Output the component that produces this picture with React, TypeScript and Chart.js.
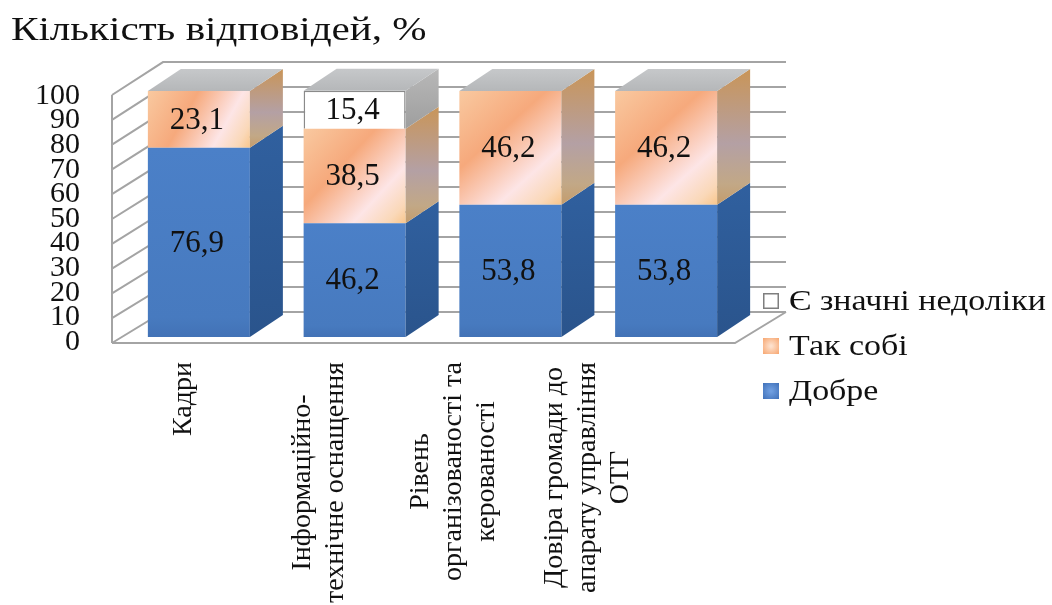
import React, { useEffect, useRef } from "react";
import { Chart, registerables } from "chart.js";

Chart.register(...registerables);

// ---- data ----
const categories: string[][] = [
  ["Кадри"],
  ["Інформаційно-", "технічне оснащення"],
  ["Рівень", "організованості та", "керованості"],
  ["Довіра громади до", "апарату управління", "ОТГ"],
];
const goodValues = [76.9, 46.2, 53.8, 53.8];
const mediocreValues = [23.1, 38.5, 46.2, 46.2];
const poorValues = [0, 15.4, 0, 0];
const seriesNames = ["Добре", "Так собі", "Є значні недоліки"];
const titleText = "Кількість відповідей, %";
const yMin = 0;
const yMax = 100;
const yStep = 10;

// ---- look ----
const FONT = "'Liberation Serif', 'Times New Roman', serif";
const BAR_PCT = 0.655;
const DEPTH = { dx: 33, dy: -22 }; // bar depth in the oblique projection
const FRONT = { dx: -9, dy: 6, ky: 1.008 }; // floor / side wall front plane
const BACK = { dx: 42, dy: -25, ky: 1.016 }; // back wall plane
const GRID = "#a4a4a4";
const LEGEND = { x: 763, y0: 301, step: 45, box: 16 };

const fmt = (v: number) => v.toFixed(1).replace(".", ",");

function segment(chart: any, ds: number, i: number) {
  let base = 0;
  for (let d = 0; d < ds; d++) base += chart.data.datasets[d].data[i];
  return [base, base + chart.data.datasets[ds].data[i]];
}

function barBox(chart: any, ds: number, i: number) {
  const xs = chart.scales.x;
  const ys = chart.scales.y;
  const a = chart.chartArea;
  const w = ((a.right - a.left) / categories.length) * BAR_PCT;
  const xc = xs.getPixelForValue(i);
  const [lo, hi] = segment(chart, ds, i);
  return { x1: xc - w / 2, x2: xc + w / 2, top: ys.getPixelForValue(hi), bottom: ys.getPixelForValue(lo) };
}

function orangeFront(ctx: CanvasRenderingContext2D, b: any) {
  const g = ctx.createLinearGradient(b.x1, b.top, b.x2, b.bottom);
  g.addColorStop(0, "#f9c9a0");
  g.addColorStop(0.38, "#f6a97c");
  g.addColorStop(0.72, "#fde5e6");
  g.addColorStop(0.9, "#fad8b8");
  g.addColorStop(1, "#f8c68c");
  return g;
}
function blueFront(ctx: CanvasRenderingContext2D, b: any) {
  const g = ctx.createLinearGradient(0, b.top, 0, b.bottom);
  g.addColorStop(0, "#4b80c8");
  g.addColorStop(0.9, "#477abf");
  g.addColorStop(1, "#4272b6");
  return g;
}

const frontFill = (ds: number) => (c: any) => {
  const chart = c.chart;
  if (!chart.chartArea || c.type !== "data") return ["#4a7cc3", "#f7ad7e", "#ffffff"][ds];
  if (ds === 2) return "#ffffff";
  const b = barBox(chart, ds, c.dataIndex);
  return ds === 0 ? blueFront(chart.ctx, b) : orangeFront(chart.ctx, b);
};

function sideFill(ctx: CanvasRenderingContext2D, ds: number, x: number, top: number, bottom: number) {
  const g = ctx.createLinearGradient(x, top + DEPTH.dy, x, bottom);
  if (ds === 0) {
    g.addColorStop(0, "#30609f");
    g.addColorStop(1, "#2a548c");
  } else if (ds === 1) {
    g.addColorStop(0, "#c99558");
    g.addColorStop(0.55, "#b4a0a4");
    g.addColorStop(0.85, "#c2a886");
    g.addColorStop(1, "#c49c6c");
  } else {
    g.addColorStop(0, "#b8b8b8");
    g.addColorStop(1, "#9e9e9e");
  }
  return g;
}

// text drawn slightly widened horizontally
function wideText(ctx: CanvasRenderingContext2D, text: string, x: number, y: number, sx: number) {
  ctx.save();
  ctx.translate(x, y);
  ctx.scale(sx, 1);
  ctx.fillText(text, 0, 0);
  ctx.restore();
}

const scene3d = {
  id: "scene3d",
  beforeDatasetsDraw(chart: any) {
    const { ctx, chartArea: a, scales } = chart;
    const ys = scales.y;
    const yAt = (v: number, p: any) => a.bottom + p.dy - (a.bottom - ys.getPixelForValue(v)) * p.ky;
    const fl = a.left + FRONT.dx;
    const fr = a.right + FRONT.dx;
    const bl = a.left + BACK.dx;
    const br = a.right + BACK.dx;
    ctx.save();
    ctx.strokeStyle = GRID;
    ctx.lineWidth = 2;
    ctx.beginPath();
    for (const t of ys.ticks) {
      ctx.moveTo(fl, yAt(t.value, FRONT));
      ctx.lineTo(bl, yAt(t.value, BACK));
      ctx.lineTo(br, yAt(t.value, BACK));
    }
    ctx.moveTo(fl, yAt(yMin, FRONT));
    ctx.lineTo(fl, yAt(yMax, FRONT));
    ctx.moveTo(fl, yAt(yMin, FRONT));
    ctx.lineTo(fr, yAt(yMin, FRONT));
    ctx.lineTo(br, yAt(yMin, BACK));
    ctx.stroke();
    ctx.restore();
  },
  afterDatasetsDraw(chart: any) {
    const { ctx } = chart;
    const n = categories.length;
    const nds = chart.data.datasets.length;
    ctx.save();
    // side faces
    for (let ds = 0; ds < nds; ds++) {
      for (let i = 0; i < n; i++) {
        const v = chart.data.datasets[ds].data[i];
        if (!v) continue;
        const b = barBox(chart, ds, i);
        ctx.beginPath();
        ctx.moveTo(b.x2, b.bottom);
        ctx.lineTo(b.x2, b.top);
        ctx.lineTo(b.x2 + DEPTH.dx, b.top + DEPTH.dy);
        ctx.lineTo(b.x2 + DEPTH.dx, b.bottom + DEPTH.dy);
        ctx.closePath();
        ctx.fillStyle = sideFill(ctx, ds, b.x2, b.top, b.bottom);
        ctx.fill();
      }
    }
    // top faces
    for (let i = 0; i < n; i++) {
      const b = barBox(chart, nds - 1, i);
      const g = ctx.createLinearGradient(0, b.top + DEPTH.dy, 0, b.top);
      g.addColorStop(0, "#c6c8ca");
      g.addColorStop(1, "#b5b7b9");
      ctx.beginPath();
      ctx.moveTo(b.x1, b.top);
      ctx.lineTo(b.x2, b.top);
      ctx.lineTo(b.x2 + DEPTH.dx, b.top + DEPTH.dy);
      ctx.lineTo(b.x1 + DEPTH.dx, b.top + DEPTH.dy);
      ctx.closePath();
      ctx.fillStyle = g;
      ctx.fill();
    }
    // value labels
    ctx.fillStyle = "#111111";
    ctx.font = `31px ${FONT}`;
    ctx.textAlign = "center";
    ctx.textBaseline = "middle";
    for (let ds = 0; ds < nds; ds++) {
      for (let i = 0; i < n; i++) {
        const v = chart.data.datasets[ds].data[i];
        if (!v) continue;
        const b = barBox(chart, ds, i);
        ctx.fillText(fmt(v), (b.x1 + b.x2) / 2 - 2, (b.top + b.bottom) / 2 + 1);
      }
    }
    ctx.restore();
  },
  afterDraw(chart: any) {
    const { ctx, chartArea: a } = chart;
    const lx = chart.scales.lx;
    ctx.save();
    // title
    ctx.fillStyle = "#111111";
    ctx.font = `33px ${FONT}`;
    ctx.textAlign = "left";
    ctx.textBaseline = "alphabetic";
    wideText(ctx, titleText, 11, 40, 1.245);

    // category labels, rotated, lines centred
    ctx.font = `28px ${FONT}`;
    ctx.textAlign = "center";
    ctx.textBaseline = "middle";
    const lh = 33;
    categories.forEach((lines, i) => {
      const maxW = Math.max(...lines.map((l) => ctx.measureText(l).width));
      const xc = lx.getPixelForValue(i);
      const yc = a.bottom + 25 + maxW / 2;
      ctx.save();
      ctx.translate(xc, yc);
      ctx.rotate(-Math.PI / 2);
      lines.forEach((l, j) => ctx.fillText(l, 0, (j - (lines.length - 1) / 2) * lh));
      ctx.restore();
    });

    // legend (top to bottom: last series first)
    ctx.textAlign = "left";
    const order = [2, 1, 0];
    order.forEach((ds, k) => {
      const cy = LEGEND.y0 + k * LEGEND.step;
      const bx = LEGEND.x;
      const by = cy - LEGEND.box / 2;
      const s = LEGEND.box;
      if (ds === 2) {
        ctx.fillStyle = "#ffffff";
        ctx.fillRect(bx, by, s, s);
        ctx.strokeStyle = "#7f7f7f";
        ctx.lineWidth = 1.5;
        ctx.strokeRect(bx + 0.75, by + 0.75, s - 1.5, s - 1.5);
      } else {
        const g = ctx.createRadialGradient(bx + s / 2, by + s / 2, 1, bx + s / 2, by + s / 2, s / 1.4);
        if (ds === 1) {
          g.addColorStop(0, "#fde0cc");
          g.addColorStop(1, "#f7a56e");
        } else {
          g.addColorStop(0, "#6f9ee0");
          g.addColorStop(1, "#3f70b8");
        }
        ctx.fillStyle = g;
        ctx.fillRect(bx, by, s, s);
      }
      ctx.fillStyle = "#111111";
      ctx.font = `29px ${FONT}`;
      wideText(ctx, seriesNames[ds], bx + s + 10, cy + 1, 1.17);
    });
    ctx.restore();
  },
};

export default function App() {
  const ref = useRef<HTMLCanvasElement | null>(null);
  useEffect(() => {
    document.body.style.margin = "0";
    const canvas = ref.current;
    if (!canvas) return;
    const chart = new Chart(canvas, {
      type: "bar",
      data: {
        labels: categories.map((c) => c.join(" ")),
        datasets: [
          { label: seriesNames[0], data: goodValues, backgroundColor: frontFill(0), borderWidth: 0 },
          { label: seriesNames[1], data: mediocreValues, backgroundColor: frontFill(1), borderWidth: 0 },
          {
            label: seriesNames[2],
            data: poorValues,
            backgroundColor: frontFill(2),
            borderColor: "#8a8a8a",
            borderWidth: 1.5,
          },
        ],
      },
      options: {
        responsive: false,
        animation: false,
        layout: { padding: { left: 10, right: 308, top: 91, bottom: 268 } },
        datasets: { bar: { barPercentage: BAR_PCT, categoryPercentage: 1 } },
        plugins: {
          legend: { display: false },
          tooltip: { enabled: false },
          title: { display: false },
        },
        scales: {
          x: { stacked: true, display: false },
          // label positions along the floor edge (slightly compressed by the perspective)
          lx: {
            type: "linear",
            position: "bottom",
            display: false,
            offset: false,
            bounds: "data",
            min: -0.468,
            max: 4.158,
            grid: { offset: false },
          },
          y: {
            stacked: true,
            min: yMin,
            max: yMax,
            grid: { display: false, drawTicks: false },
            border: { display: false },
            ticks: {
              stepSize: yStep,
              autoSkip: false,
              padding: 41,
              labelOffset: 5,
              color: "#111111",
              font: { family: FONT, size: 30 },
            },
            afterFit: (s: any) => {
              s.width = 111;
            },
          },
        },
      },
      plugins: [scene3d],
    });
    return () => chart.destroy();
  }, []);
  return (
    <div style={{ width: 1052, height: 605, background: "#ffffff" }}>
      <canvas ref={ref} width={1052} height={605} style={{ display: "block" }} />
    </div>
  );
}
